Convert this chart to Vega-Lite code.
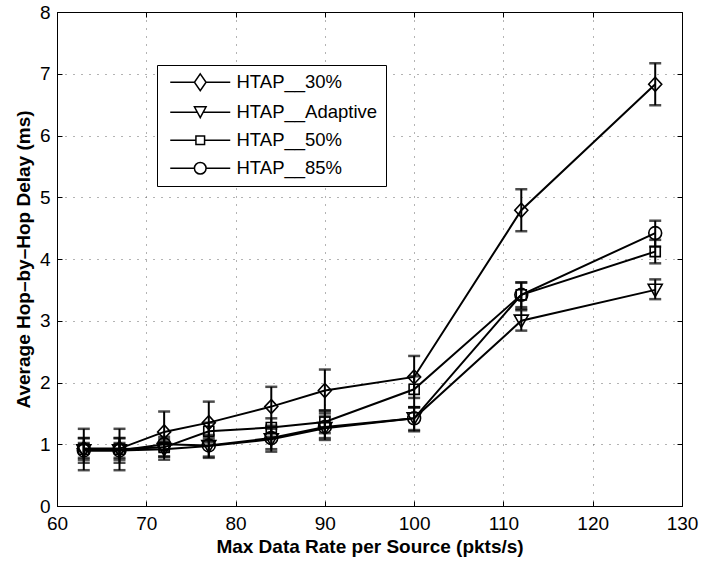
{
  "$schema": "https://vega.github.io/schema/vega-lite/v6.json",
  "width": 625,
  "height": 494,
  "autosize": {"type": "none"},
  "padding": {"left": 57, "top": 12, "right": 19, "bottom": 57},
  "background": "white",
  "data": {
    "values": [
      {"series": "HTAP__30%", "rate": 63, "delay": 0.93, "lo": 0.58, "hi": 1.25},
      {"series": "HTAP__30%", "rate": 67, "delay": 0.93, "lo": 0.58, "hi": 1.25},
      {"series": "HTAP__30%", "rate": 72, "delay": 1.2, "lo": 0.9, "hi": 1.53},
      {"series": "HTAP__30%", "rate": 77, "delay": 1.35, "lo": 1.03, "hi": 1.69},
      {"series": "HTAP__30%", "rate": 84, "delay": 1.61, "lo": 1.3, "hi": 1.93},
      {"series": "HTAP__30%", "rate": 90, "delay": 1.87, "lo": 1.55, "hi": 2.21},
      {"series": "HTAP__30%", "rate": 100, "delay": 2.09, "lo": 1.75, "hi": 2.43},
      {"series": "HTAP__30%", "rate": 112, "delay": 4.79, "lo": 4.45, "hi": 5.13},
      {"series": "HTAP__30%", "rate": 127, "delay": 6.83, "lo": 6.49, "hi": 7.17},
      {"series": "HTAP__Adaptive", "rate": 63, "delay": 0.9, "lo": 0.78, "hi": 1.02},
      {"series": "HTAP__Adaptive", "rate": 67, "delay": 0.9, "lo": 0.78, "hi": 1.02},
      {"series": "HTAP__Adaptive", "rate": 72, "delay": 0.92, "lo": 0.8, "hi": 1.04},
      {"series": "HTAP__Adaptive", "rate": 77, "delay": 0.97, "lo": 0.78, "hi": 1.1},
      {"series": "HTAP__Adaptive", "rate": 84, "delay": 1.08, "lo": 0.88, "hi": 1.25},
      {"series": "HTAP__Adaptive", "rate": 90, "delay": 1.26, "lo": 1.07, "hi": 1.45},
      {"series": "HTAP__Adaptive", "rate": 100, "delay": 1.42, "lo": 1.21, "hi": 1.6},
      {"series": "HTAP__Adaptive", "rate": 112, "delay": 3.0, "lo": 2.84, "hi": 3.17},
      {"series": "HTAP__Adaptive", "rate": 127, "delay": 3.5, "lo": 3.35, "hi": 3.67},
      {"series": "HTAP__50%", "rate": 63, "delay": 0.92, "lo": 0.75, "hi": 1.1},
      {"series": "HTAP__50%", "rate": 67, "delay": 0.92, "lo": 0.75, "hi": 1.1},
      {"series": "HTAP__50%", "rate": 72, "delay": 0.95, "lo": 0.8, "hi": 1.08},
      {"series": "HTAP__50%", "rate": 77, "delay": 1.21, "lo": 1.06, "hi": 1.35},
      {"series": "HTAP__50%", "rate": 84, "delay": 1.27, "lo": 1.12, "hi": 1.42},
      {"series": "HTAP__50%", "rate": 90, "delay": 1.36, "lo": 1.18, "hi": 1.54},
      {"series": "HTAP__50%", "rate": 100, "delay": 1.89, "lo": 1.6, "hi": 2.1},
      {"series": "HTAP__50%", "rate": 112, "delay": 3.42, "lo": 3.22, "hi": 3.62},
      {"series": "HTAP__50%", "rate": 127, "delay": 4.12, "lo": 3.93, "hi": 4.31},
      {"series": "HTAP__85%", "rate": 63, "delay": 0.9, "lo": 0.7, "hi": 1.1},
      {"series": "HTAP__85%", "rate": 67, "delay": 0.9, "lo": 0.7, "hi": 1.1},
      {"series": "HTAP__85%", "rate": 72, "delay": 1.0, "lo": 0.75, "hi": 1.12},
      {"series": "HTAP__85%", "rate": 77, "delay": 0.98, "lo": 0.8, "hi": 1.15},
      {"series": "HTAP__85%", "rate": 84, "delay": 1.1, "lo": 0.92, "hi": 1.28},
      {"series": "HTAP__85%", "rate": 90, "delay": 1.28, "lo": 1.1, "hi": 1.5},
      {"series": "HTAP__85%", "rate": 100, "delay": 1.42, "lo": 1.23, "hi": 1.6},
      {"series": "HTAP__85%", "rate": 112, "delay": 3.42, "lo": 3.19, "hi": 3.62},
      {"series": "HTAP__85%", "rate": 127, "delay": 4.42, "lo": 4.2, "hi": 4.62}
    ]
  },
  "config": {
    "view": {"stroke": "black", "strokeWidth": 1},
    "font": "Liberation Sans",
    "axis": {
      "labelFont": "Liberation Sans",
      "labelFontSize": 19,
      "labelColor": "black",
      "titleFont": "Liberation Sans",
      "titleFontSize": 19,
      "titleFontWeight": "bold",
      "titleColor": "black",
      "domainColor": "black",
      "domainWidth": 1,
      "tickColor": "black",
      "tickWidth": 1,
      "gridColor": "#666666",
      "gridDash": [1, 7],
      "gridWidth": 1
    }
  },
  "layer": [
    {
      "mark": {"type": "line", "color": "black", "strokeWidth": 2},
      "encoding": {
        "x": {
          "field": "rate", "type": "quantitative",
          "scale": {"domain": [60, 130], "nice": false, "zero": false},
          "axis": {
            "orient": "bottom", "values": [60, 70, 80, 90, 100, 110, 120, 130],
            "grid": true, "tickSize": -5, "labelPadding": 13, "titlePadding": 4,
            "title": "Max Data Rate per Source (pkts/s)", "labelFlush": false
          }
        },
        "y": {
          "field": "delay", "type": "quantitative",
          "scale": {"domain": [0, 8], "nice": false, "zero": true},
          "axis": {
            "orient": "left", "values": [0, 1, 2, 3, 4, 5, 6, 7, 8],
            "grid": true, "tickSize": -5, "labelPadding": 12, "titlePadding": 6,
            "title": "Average Hop–by–Hop Delay (ms)", "labelFlush": false
          }
        },
        "detail": {"field": "series"}
      }
    },
    {
      "mark": {"type": "rule", "color": "black", "strokeWidth": 2},
      "encoding": {
        "x": {"field": "rate", "type": "quantitative", "axis": null},
        "y": {"field": "lo", "type": "quantitative", "axis": null},
        "y2": {"field": "hi"}
      }
    },
    {
      "mark": {"type": "tick", "orient": "horizontal", "color": "black", "size": 12, "thickness": 2.5},
      "encoding": {
        "x": {"field": "rate", "type": "quantitative", "axis": null},
        "y": {"field": "lo", "type": "quantitative", "axis": null}
      }
    },
    {
      "mark": {"type": "tick", "orient": "horizontal", "color": "black", "size": 12, "thickness": 2.5},
      "encoding": {
        "x": {"field": "rate", "type": "quantitative", "axis": null},
        "y": {"field": "hi", "type": "quantitative", "axis": null}
      }
    },
    {
      "mark": {"type": "point", "filled": false, "stroke": "black", "strokeWidth": 1.6, "size": 196, "opacity": 1},
      "encoding": {
        "x": {"field": "rate", "type": "quantitative", "axis": null},
        "y": {"field": "delay", "type": "quantitative", "axis": null},
        "shape": {
          "field": "series", "type": "nominal",
          "scale": {
            "domain": ["HTAP__30%", "HTAP__Adaptive", "HTAP__50%", "HTAP__85%"],
            "range": [
              "M0,-1L0.93,0L0,1L-0.93,0Z",
              "M-1,-0.8L1,-0.8L0,0.95Z",
              "M-0.72,-0.72H0.72V0.72H-0.72Z",
              "M-0.92,0A0.92,0.92,0,1,0,0.92,0A0.92,0.92,0,1,0,-0.92,0Z"
            ]
          },
          "legend": null
        }
      }
    },
    {
      "transform": [{"filter": "false"}],
      "mark": {"type": "point", "filled": false, "stroke": "black", "strokeWidth": 1.5, "opacity": 1},
      "encoding": {
        "shape": {
          "field": "series", "type": "nominal",
          "scale": {
            "domain": ["HTAP__30%", "HTAP__Adaptive", "HTAP__50%", "HTAP__85%"],
            "range": [
              "M-5,0H-0.97M0.97,0H5M0,-1.4L0.97,0L0,1.4L-0.97,0Z",
              "M-5,0H-0.5M0.5,0H5M-0.97,-0.9H0.97L0,0.9Z",
              "M-5,0H-0.72M0.72,0H5M-0.72,-0.72H0.72V0.72H-0.72Z",
              "M-5,0H-0.97M0.97,0H5M-0.97,0A0.97,0.97,0,1,0,0.97,0A0.97,0.97,0,1,0,-0.97,0Z"
            ]
          },
          "legend": {
            "orient": "none", "legendX": 100, "legendY": 53, "title": null,
            "strokeColor": "black", "fillColor": "white", "padding": 8,
            "labelFont": "Liberation Sans", "labelFontSize": 18.5, "labelColor": "black",
            "symbolOffset": 26, "labelOffset": 27, "rowPadding": 9,
            "symbolSize": 144, "symbolStrokeWidth": 1.5, "symbolStrokeColor": "black",
            "symbolFillColor": "transparent"
          }
        }
      }
    },
    {
      "mark": {"type": "point", "opacity": 0},
      "encoding": {
        "x": {
          "field": "rate", "type": "quantitative",
          "axis": {"orient": "top", "values": [60, 70, 80, 90, 100, 110, 120, 130], "labels": false, "grid": false, "tickSize": -5, "title": null}
        },
        "y": {
          "field": "delay", "type": "quantitative",
          "axis": {"orient": "right", "values": [0, 1, 2, 3, 4, 5, 6, 7, 8], "labels": false, "grid": false, "tickSize": -5, "title": null}
        }
      }
    }
  ],
  "resolve": {
    "scale": {"shape": "independent"},
    "axis": {"x": "independent", "y": "independent"}
  }
}
